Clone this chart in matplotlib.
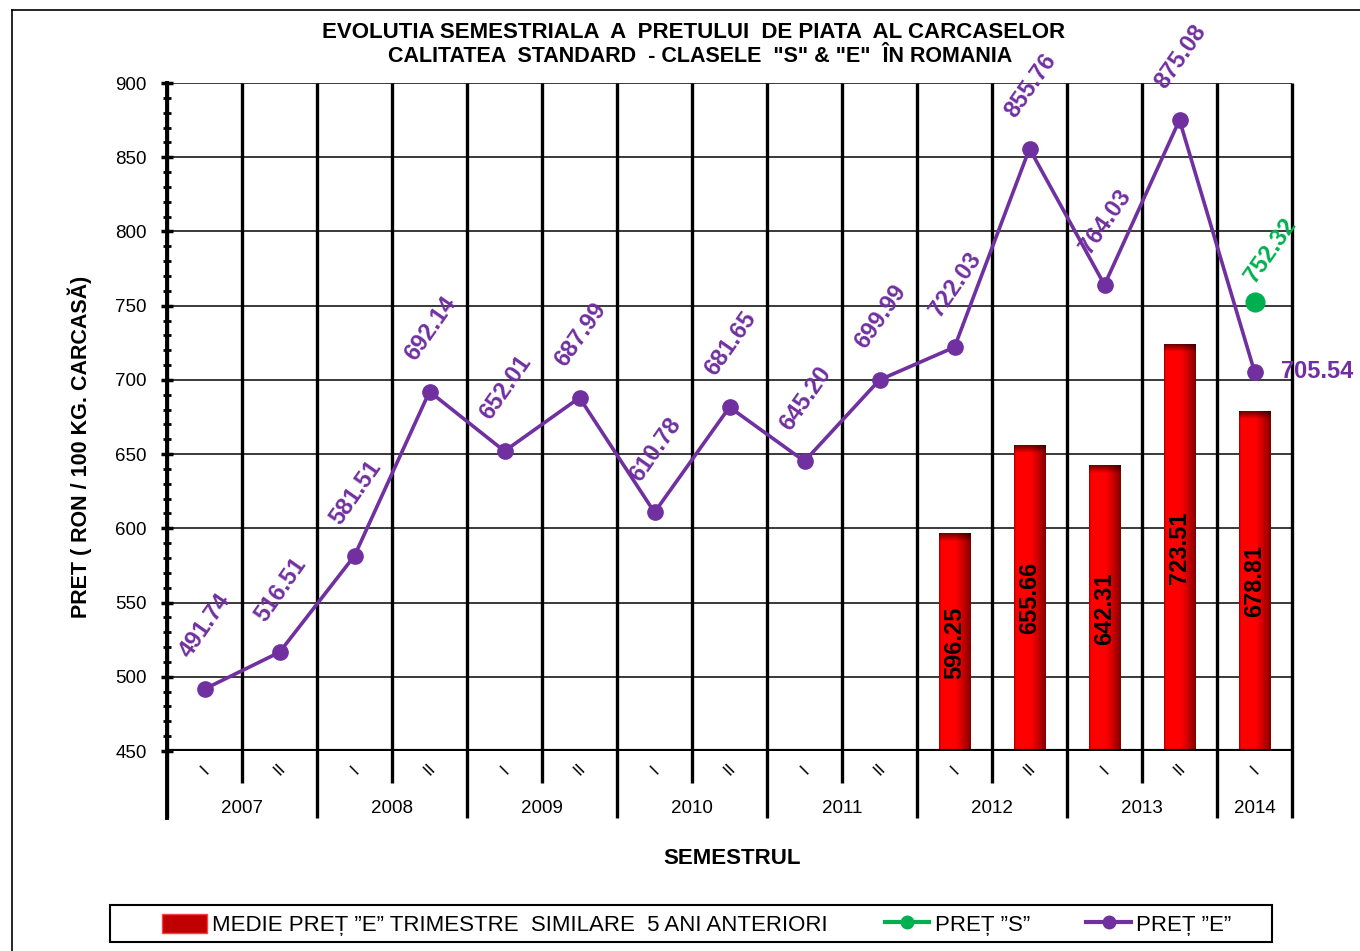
import numpy as np
import matplotlib
matplotlib.use("Agg")
import matplotlib.pyplot as plt
from matplotlib.lines import Line2D
from matplotlib.patches import Rectangle, Patch
from matplotlib import font_manager

# ---------------- data ----------------
years = ["2007", "2008", "2009", "2010", "2011", "2012", "2013", "2014"]
semesters = ["I", "II", "I", "II", "I", "II", "I", "II", "I", "II", "I", "II", "I", "II", "I"]
pret_e = [491.74, 516.51, 581.51, 692.14, 652.01, 687.99, 610.78, 681.65,
          645.20, 699.99, 722.03, 855.76, 764.03, 875.08, 705.54]
pret_s = [np.nan] * 14 + [752.32]
medie = [0, 0, 0, 0, 0, 0, 0, 0, 0, 0, 596.25, 655.66, 642.31, 723.51, 678.81]
y_ticks = [450, 500, 550, 600, 650, 700, 750, 800, 850, 900]

title1 = 'EVOLUTIA SEMESTRIALA  A  PRETULUI  DE PIATA  AL CARCASELOR'
title2 = 'CALITATEA  STANDARD  - CLASELE  "S" & "E"  ÎN ROMANIA'
ylabel = "PRET ( RON / 100 KG. CARCASĂ)"
xlabel = "SEMESTRUL"
leg_labels = ["MEDIE PREȚ ”E” TRIMESTRE  SIMILARE  5 ANI ANTERIORI", "PREȚ ”S”", "PREȚ ”E”"]

PURPLE = "#7030A0"
GREEN = "#00B050"

names = {f.name for f in font_manager.fontManager.ttflist}
FONT = "Liberation Sans"
NARROW = "Liberation Sans Narrow" if "Liberation Sans Narrow" in names else FONT
plt.rcParams["font.family"] = [FONT, "DejaVu Sans"]

W, H = 1360, 951
fig = plt.figure(figsize=(W / 100, H / 100), dpi=100)
L, R, T, B = 167, 1292, 83, 751
ax = fig.add_axes([L / W, 1 - B / H, (R - L) / W, (B - T) / H])

n = len(pret_e)
x = np.arange(n)
ymin, ymax = 450, 900
ax.set_xlim(-0.5, n - 0.5)
ax.set_ylim(ymin, ymax)

# horizontal gridlines
for yv in y_ticks[1:]:
    ax.axhline(yv, color="#2a2a2a", lw=1.3, zorder=1)

# vertical category boundaries (extended below axis)
year_idx = [0]
for i in range(1, n):
    if semesters[i] == "I":
        year_idx.append(i)
for k in range(n + 1):
    xb = k - 0.5
    long_line = (k == n) or (k < n and semesters[k] == "I")
    ybot = -0.1003 if long_line else -0.048
    ax.plot([xb, xb], [ybot, 1.0], transform=ax.get_xaxis_transform(),
            color="black", lw=2.4, clip_on=False, zorder=2, solid_capstyle="butt")

# bars with gradient shading
bw = 0.42
px_per_unit = (B - T) / (ymax - ymin)
cols = 60
xx = np.linspace(0, 1, cols)
prof = np.ones(cols)
prof[xx < 0.05] = 0.65 + 0.35 * (xx[xx < 0.05] / 0.05)
m = xx > 0.5
prof[m] = 1 - 0.5 * ((xx[m] - 0.5) / 0.5) ** 1.3
for i, v in enumerate(medie):
    if v <= ymin:
        ax.plot([i - bw / 2, i + bw / 2], [ymin, ymin], color="#E06060", lw=1.5,
                zorder=3, solid_capstyle="butt")
        continue
    hpx = (v - ymin) * px_per_unit
    N = 400
    rows = np.ones(N)
    cap = max(1, int(N * 9 / hpx))
    rows[:cap] = np.linspace(0.45, 1.0, cap)
    bright = rows[:, None] * prof[None, :]
    img = np.zeros((N, cols, 3))
    img[..., 0] = bright
    ax.imshow(img, extent=(i - bw / 2, i + bw / 2, ymin, v), origin="upper",
              aspect="auto", interpolation="bilinear", zorder=3)
    ax.text(i, (v + ymin) / 2, f"{v:.2f}", rotation=90, ha="center", va="center",
            fontsize=17, fontweight="bold", color="black", zorder=6, family=[FONT])

ax.set_xlim(-0.5, n - 0.5)
ax.set_ylim(ymin, ymax)

# lines
ax.plot(x, pret_e, color=PURPLE, lw=2.6, marker="o", markersize=11, zorder=5, clip_on=False)
ax.plot(x, pret_s, color=GREEN, lw=2.6, marker="o", markersize=13.5, zorder=5, clip_on=False)

for i, v in enumerate(pret_e):
    if i == n - 1:
        ax.annotate(f"{v:.2f}", (i, v), xytext=(26, 0), textcoords="offset pixels",
                    ha="left", va="center", fontsize=17, fontweight="bold", color=PURPLE,
                    zorder=7, annotation_clip=False)
    else:
        ax.annotate(f"{v:.2f}", (i, v), xytext=(1, 63), textcoords="offset pixels",
                    ha="center", va="center", rotation=55, fontsize=17, fontweight="bold",
                    color=PURPLE, zorder=7, annotation_clip=False)
for i, v in enumerate(pret_s):
    if not np.isnan(v):
        ax.annotate(f"{v:.2f}", (i, v), xytext=(16, 52), textcoords="offset pixels",
                    ha="center", va="center", rotation=55, fontsize=17, fontweight="bold",
                    color=GREEN, zorder=7, annotation_clip=False)

# axes styling
for s in ["top", "right", "bottom"]:
    ax.spines[s].set_visible(False)
ax.spines["left"].set_linewidth(2.8)
ax.spines["left"].set_bounds(ymin, ymax)
ax.plot([-0.5, -0.5], [-0.1003, 0], transform=ax.get_xaxis_transform(), color="black",
        lw=2.8, clip_on=False, zorder=2)
ax.axhline(ymin, color="black", lw=3, zorder=4)
ax.set_yticks(y_ticks)
ax.set_yticks(np.arange(450, 901, 10), minor=True)
ax.tick_params(axis="y", which="major", direction="inout", length=9, width=2.5,
               labelsize=13.5, pad=10)
ax.tick_params(axis="y", which="minor", direction="inout", length=6, width=2)
ax.set_xticks([])

# semester and year labels
for i, s in enumerate(semesters):
    ax.text(i, -0.028, s, transform=ax.get_xaxis_transform(), rotation=45,
            ha="center", va="center", fontsize=12.5)
for j, yr in enumerate(years):
    start = year_idx[j]
    end = year_idx[j + 1] - 1 if j + 1 < len(year_idx) else n - 1
    ax.text((start + end) / 2, -0.0855, yr, transform=ax.get_xaxis_transform(),
            ha="center", va="center", fontsize=13.5)

fig.text(80 / W, 1 - 447 / H, ylabel, rotation=90, ha="center", va="center",
         fontsize=15.5, fontweight="bold")
fig.text(732 / W, 1 - 858 / H, xlabel, ha="center", va="center", fontsize=16,
         fontweight="bold")
fig.text(694 / W, 1 - 32 / H, title1, ha="center", va="center", fontsize=16,
         fontweight="bold")
fig.text(700 / W, 1 - 57 / H, title2, ha="center", va="center", fontsize=15.5,
         fontweight="bold")

# figure border
fig.add_artist(Line2D([12 / W, 12 / W], [0, 1 - 10 / H], color="black", lw=1.2))
fig.add_artist(Line2D([12 / W, 1], [1 - 10 / H, 1 - 10 / H], color="black", lw=1.2))

# legend
fig.add_artist(Rectangle((110 / W, 1 - 942 / H), 1162 / W, 37 / H, fill=False,
                         edgecolor="black", lw=1.5, transform=fig.transFigure))
handles = [Patch(facecolor="#C00000", edgecolor="#FF4040"),
           Line2D([], [], color=GREEN, lw=3, marker="o", markersize=9),
           Line2D([], [], color=PURPLE, lw=3, marker="o", markersize=9)]
fig.legend(handles, leg_labels, loc="center", bbox_to_anchor=(697 / W, 1 - 925 / H),
           ncol=3, frameon=False, prop={"family": [NARROW], "size": 16},
           handlelength=2.0, handletextpad=0.25, columnspacing=2.55, handleheight=0.9)

fig.savefig("out.png", dpi=100)
